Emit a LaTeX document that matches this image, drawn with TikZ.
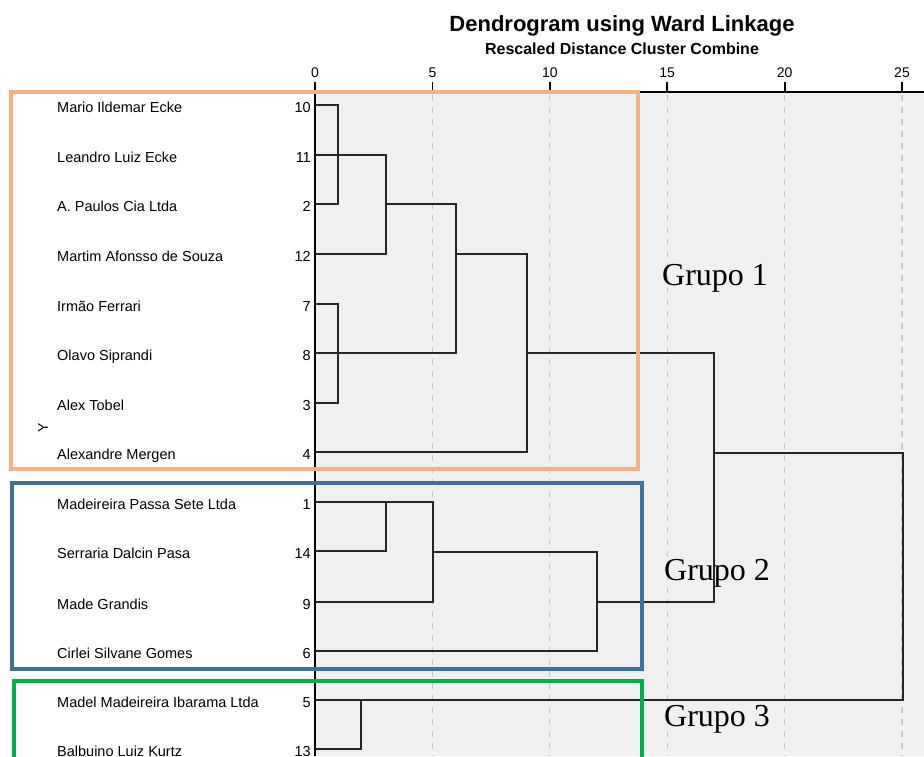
\documentclass[tikz,border=0pt]{standalone}
\usepackage{fontspec}
\setmainfont{Liberation Sans}
\newfontfamily\grupofont{Liberation Serif}
\usetikzlibrary{backgrounds}
\definecolor{panelgray}{HTML}{F0F0F0}
\definecolor{gridgray}{HTML}{C8C8C8}
\definecolor{boxorange}{HTML}{F4B183}
\definecolor{boxblue}{HTML}{41719C}
\definecolor{boxgreen}{HTML}{00B050}

\begin{document}
\begin{tikzpicture}[x=1pt,y=-1pt]
        %
        % `leaf' is the case name, `case' its number.
        % `link' is used for the dendrogram lines.
        % `groupbox' is used for the coloured frames.
        \tikzstyle{leaf} = [anchor=base west,inner sep=0pt,font=\fontsize{14.5}{17}\selectfont]
        \tikzstyle{case} = [anchor=base east,inner sep=0pt,font=\fontsize{14.5}{17}\selectfont]
        \tikzstyle{tick} = [anchor=base,inner sep=0pt,font=\fontsize{14}{16}\selectfont]
        \tikzstyle{link} = [line width=1.8pt,draw=black!85]
        \tikzstyle{gridline} = [draw=gridgray,dash pattern=on 6pt off 6pt,line width=1.3pt]
        \tikzstyle{groupbox} = [line width=4pt]
        \tikzstyle{grupo} = [anchor=base west,inner sep=0pt,font=\grupofont\fontsize{32}{36}\selectfont]
        %
        \useasboundingbox (0,0) rectangle (924,756);
        \clip (0,0) rectangle (924,756);
        %
        % Titles
        \node[anchor=base,font=\bfseries\fontsize{22}{26}\selectfont] (title) at (622,31) {Dendrogram using Ward Linkage};
        \node[anchor=base,font=\bfseries\fontsize{16}{19}\selectfont] (subtitle) at (622,54) {Rescaled Distance Cluster Combine};
        %
        % Scale
        \foreach \d in {0,5,...,25} {
        	\node[tick] (t\d) at ({315+23.48*\d},77) {\d};
        	\draw[line width=1.8pt] ({315+23.48*\d},82) -- ({315+23.48*\d},92);
        }
        \draw[line width=2.2pt] (315,92) -- (924,92);
        \draw[line width=2.2pt] (315,82) -- (315,756);
        %
        % Cases
        \foreach \nm/\id/\y in {Mario Ildemar Ecke/10/105, Leandro Luiz Ecke/11/155,
        	A. Paulos Cia Ltda/2/204, Martim Afonsso de Souza/12/254,
        	Irmão Ferrari/7/304, Olavo Siprandi/8/353, Alex Tobel/3/403,
        	Alexandre Mergen/4/452, Madeireira Passa Sete Ltda/1/502,
        	Serraria Dalcin Pasa/14/551, Made Grandis/9/602,
        	Cirlei Silvane Gomes/6/651, Madel Madeireira Ibarama Ltda/5/700,
        	Balbuino Luiz Kurtz/13/749} {
        	\node[leaf] (lab\id) at (57,{\y+7.5}) {\nm};
        	\node[case] (num\id) at (311,{\y+7}) {\id};
        	\coordinate (c\id) at (315,\y);
        }
        \node[rotate=90,inner sep=0pt,font=\fontsize{14}{16}\selectfont] (ylab) at (43,428) {Y};
        %
        % Joins
        \coordinate (j1) at (338,155);
        \coordinate (j2) at (386,204);
        \coordinate (j3) at (456,254);
        \coordinate (j4) at (338,353);
        \coordinate (j5) at (527,353);
        \coordinate (j6) at (433,552);
        \coordinate (j7) at (386,502);
        \coordinate (j8) at (597,602);
        \coordinate (j9) at (361,700);
        \coordinate (j10) at (714,453);
        \coordinate (j11) at (903,577);
        %
        % First cluster
        \draw[link] (c10) -| (j1) |- (c2);
        \draw[link] (c11) -| (j2) |- (c12);
        \draw[link] (j2) -| (j3) |- (c8);
        \draw[link] (c7) -| (j4) |- (c3);
        \draw[link] (j3) -| (j5) |- (c4);
        %
        % Second cluster
        \draw[link] (c1) -| (j6) |- (c9);
        \draw[link] (c14) -| (j7);
        \draw[link] (j6) -| (j8) |- (c6);
        %
        % Third cluster
        \draw[link] (c13) -| (j9);
        %
        % Top joins
        \draw[link] (j5) -| (j10) |- (j8);
        \draw[link] (j10) -| (j11) |- (c5);
        %
        % Frames
        \draw[groupbox,boxorange] (10.5,92) rectangle (638,469);
        \draw[groupbox,boxblue] (12,483) rectangle (642,669);
        \draw[groupbox,boxgreen] (13.5,681) rectangle (642,800);
        \node[grupo] (g1) at (662,285) {Grupo 1};
        \node[grupo] (g2) at (664,580) {Grupo 2};
        \node[grupo] (g3) at (664,726) {Grupo 3};
        %
        % Panel
        \begin{pgfonlayer}{background}
        \fill[panelgray] (315,92) rectangle (924,756);
        \foreach \d in {5,10,...,25}
        	\draw[gridline] ({315+23.48*\d},95) -- ({315+23.48*\d},756);
        \end{pgfonlayer}
        %
        \end{tikzpicture}
\end{document}
